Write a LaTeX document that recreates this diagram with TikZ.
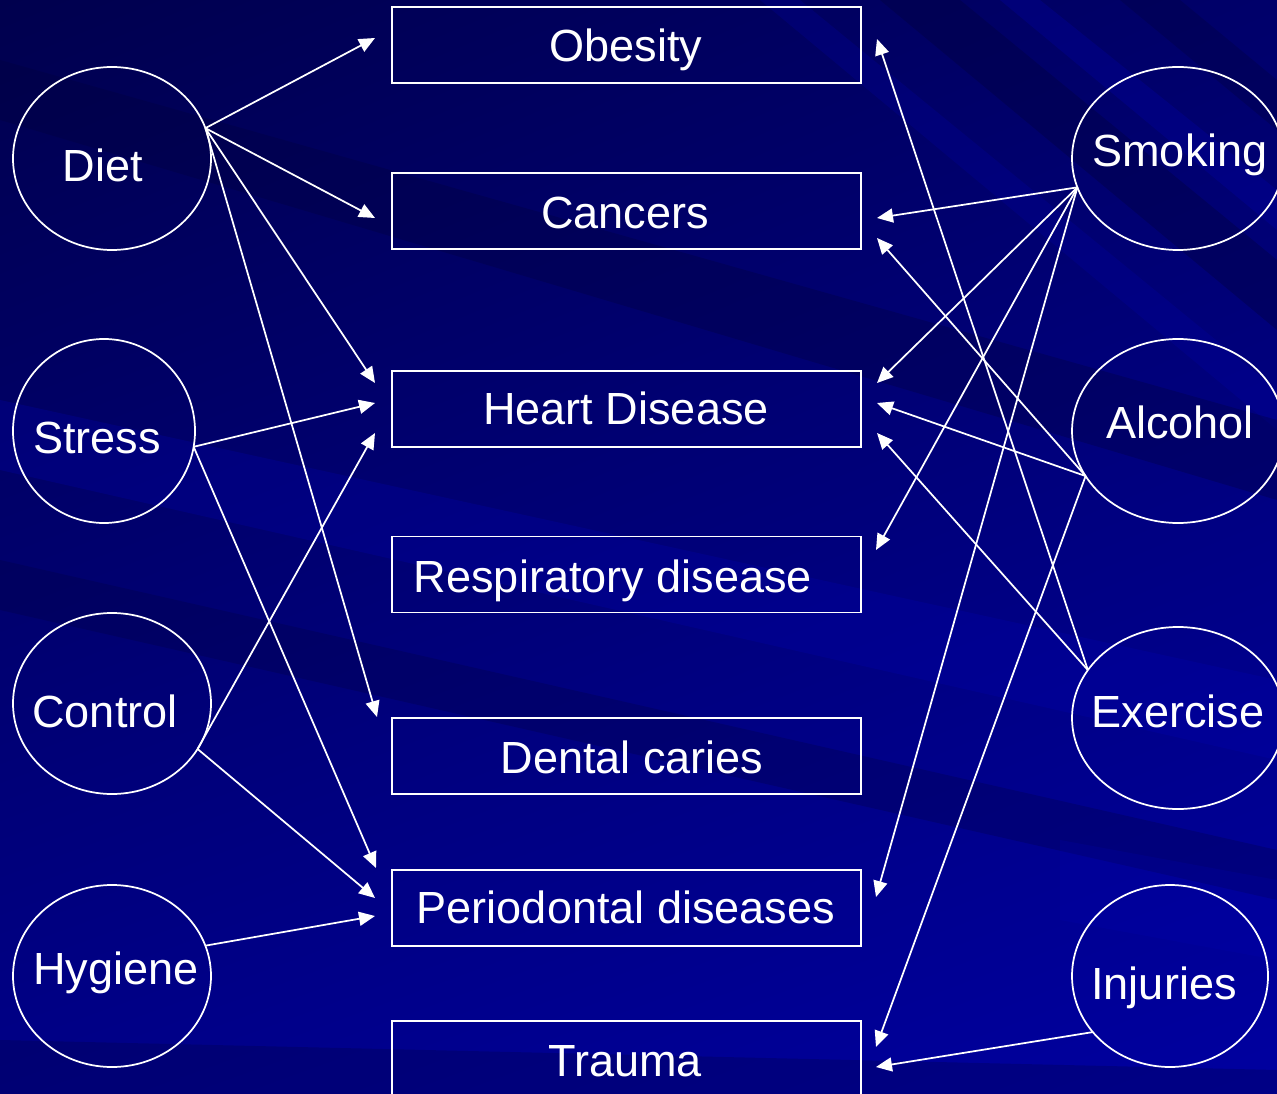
\documentclass[tikz,border=0pt]{standalone}
\usepackage{fontspec}
\setmainfont{Liberation Sans}
\usetikzlibrary{shapes.geometric,arrows.meta,calc,shadings}

\definecolor{bgTL}{HTML}{00004E}
\definecolor{bgTR}{HTML}{00006A}
\definecolor{bgBL}{HTML}{000088}
\definecolor{bgBR}{HTML}{0000A0}
\definecolor{streakLight}{HTML}{0000B4}
\definecolor{streakDark}{HTML}{00003A}

\tikzset{
  blob/.style={draw=white, line width=1.3pt, ellipse, inner sep=0pt, outer sep=0pt, fill=none},
  box/.style={draw=white, line width=1.3pt, rectangle, inner sep=0pt, outer sep=0pt,
    minimum width=351.75pt, minimum height=57pt},
  lbl/.style={text=white, anchor=base, inner sep=0pt, font=\fontsize{33.8}{40}\selectfont},
  arr/.style={draw=white, line width=1.3pt, -{Triangle[length=12pt,width=10.5pt]}}
}

\begin{document}
\begin{tikzpicture}[x=0.75pt,y=-0.75pt]
  % page frame and backdrop
  \clip (0,0) rectangle (1277,1094);
  \shade[upper left=bgTL, upper right=bgTR, lower left=bgBL, lower right=bgBR]
    (0,0) rectangle (1277,1094);

  % diagonal sheen in the upper right
  \fill[streakDark, opacity=0.35] (880,0) -- (960,0) -- (1277,260) -- (1277,330) -- cycle;
  \fill[streakLight, opacity=0.25] (1000,0) -- (1040,0) -- (1277,190) -- (1277,230) -- cycle;
  \fill[streakLight, opacity=0.2] (760,0) -- (800,0) -- (1277,390) -- (1277,430) -- cycle;
  \fill[streakDark, opacity=0.3] (1120,0) -- (1180,0) -- (1277,80) -- (1277,130) -- cycle;
  % shallow bands across the middle and lower part
  \fill[streakDark, opacity=0.3] (0,60) -- (0,120) -- (1277,500) -- (1277,420) -- cycle;
  \fill[streakLight, opacity=0.25] (0,400) -- (0,470) -- (1277,760) -- (1277,680) -- cycle;
  \fill[streakDark, opacity=0.25] (0,560) -- (0,610) -- (1277,900) -- (1277,850) -- cycle;
  \fill[streakLight, opacity=0.2] (1060,840) -- (1277,880) -- (1277,960) -- (1060,920) -- cycle;
  \fill[streakDark, opacity=0.25] (0,1040) -- (0,1094) -- (1277,1094) -- (1277,1070) -- cycle;

  % risk factors (left)
  \node[blob, minimum width=148.5pt, minimum height=137.25pt] (diet)    at (112,158.5) {};
  \node[blob, minimum width=136.5pt, minimum height=138pt]    (stress)  at (104,431)   {};
  \node[blob, minimum width=148.5pt, minimum height=135.75pt] (control) at (112,703.5) {};
  \node[blob, minimum width=148.5pt, minimum height=136.5pt]  (hygiene) at (112,976)   {};
  \node[lbl] (dietT)    at (103,182) {Diet};
  \node[lbl] (stressT)  at (97,454)  {Stress};
  \node[lbl] (controlT) at (105,727) {Control};
  \node[lbl] (hygieneT) at (116,984) {Hygiene};

  % risk factors (right)
  \node[blob, minimum width=159pt, minimum height=137.25pt] (smoking)  at (1178,158.5) {};
  \node[blob, minimum width=159pt, minimum height=138pt]    (alcohol)  at (1178,431)   {};
  \node[blob, minimum width=159pt, minimum height=136.5pt]  (exercise) at (1178,718)   {};
  \node[blob, minimum width=147pt, minimum height=136.5pt]  (injuries) at (1170,976)   {};
  \node[lbl] (smokingT)  at (1180,167) {Smoking};
  \node[lbl] (alcoholT)  at (1180,439) {Alcohol};
  \node[lbl] (exerciseT) at (1178,727) {Exercise};
  \node[lbl] (injuriesT) at (1164,999) {Injuries};

  % conditions
  \node[box] (obesity) at (626.5,45)   {};
  \node[box] (cancers) at (626.5,211)  {};
  \node[box] (heart)   at (626.5,409)  {};
  \node[box] (resp)    at (626.5,574.5){};
  \node[box] (dental)  at (626.5,756)  {};
  \node[box] (perio)   at (626.5,908)  {};
  \node[box] (trauma)  at (626.5,1059) {};
  \node[lbl] (obesityT) at (626,62)   {Obesity};
  \node[lbl] (cancersT) at (625,229)  {Cancers};
  \node[lbl] (heartT)   at (626,425)  {Heart Disease};
  \node[lbl] (respT)    at (613,592)  {Respiratory disease};
  \node[lbl] (dentalT)  at (632,773)  {Dental caries};
  \node[lbl] (perioT)   at (626,923)  {Periodontal diseases};
  \node[lbl] (traumaT)  at (625,1076) {Trauma};

  % links from the left-hand factors
  \draw[arr] (diet.18) -- ($(obesity.west)+(-17,-7)$);
  \draw[arr] (diet.18) -- ($(cancers.west)+(-17,7)$);
  \draw[arr] (diet.18) -- ($(heart.west)+(-17,-26)$);
  \draw[arr] (diet.18) -- ($(dental.west)+(-15,-39)$);
  \draw[arr] (stress.350) -- ($(heart.west)+(-17,-6)$);
  \draw[arr] (stress.350) -- ($(perio.west)+(-16,-40)$);
  \draw[arr] (control.332) -- ($(heart.west)+(-17,24)$);
  \draw[arr] (control.332) -- ($(perio.west)+(-17,-10)$);
  \draw[arr] (hygiene.18) -- ($(perio.west)+(-17,8)$);

  % links from the right-hand factors
  \draw[arr] (smoking.196) -- ($(cancers.east)+(16,7)$);
  \draw[arr] (smoking.196) -- ($(heart.east)+(16,-26)$);
  \draw[arr] (smoking.196) -- ($(resp.east)+(15,-24.5)$);
  \draw[arr] (smoking.196) -- ($(perio.east)+(15,-11)$);
  \draw[arr] (alcohol.206) -- ($(cancers.east)+(16,27)$);
  \draw[arr] (alcohol.206) -- ($(heart.east)+(16,-6)$);
  \draw[arr] (alcohol.206) -- ($(trauma.east)+(15,-12)$);
  \draw[arr] (exercise.152) -- ($(obesity.east)+(16,-6)$);
  \draw[arr] (exercise.152) -- ($(heart.east)+(16,24)$);
  \draw[arr] (injuries.216) -- ($(trauma.east)+(15,8)$);
\end{tikzpicture}
\end{document}
